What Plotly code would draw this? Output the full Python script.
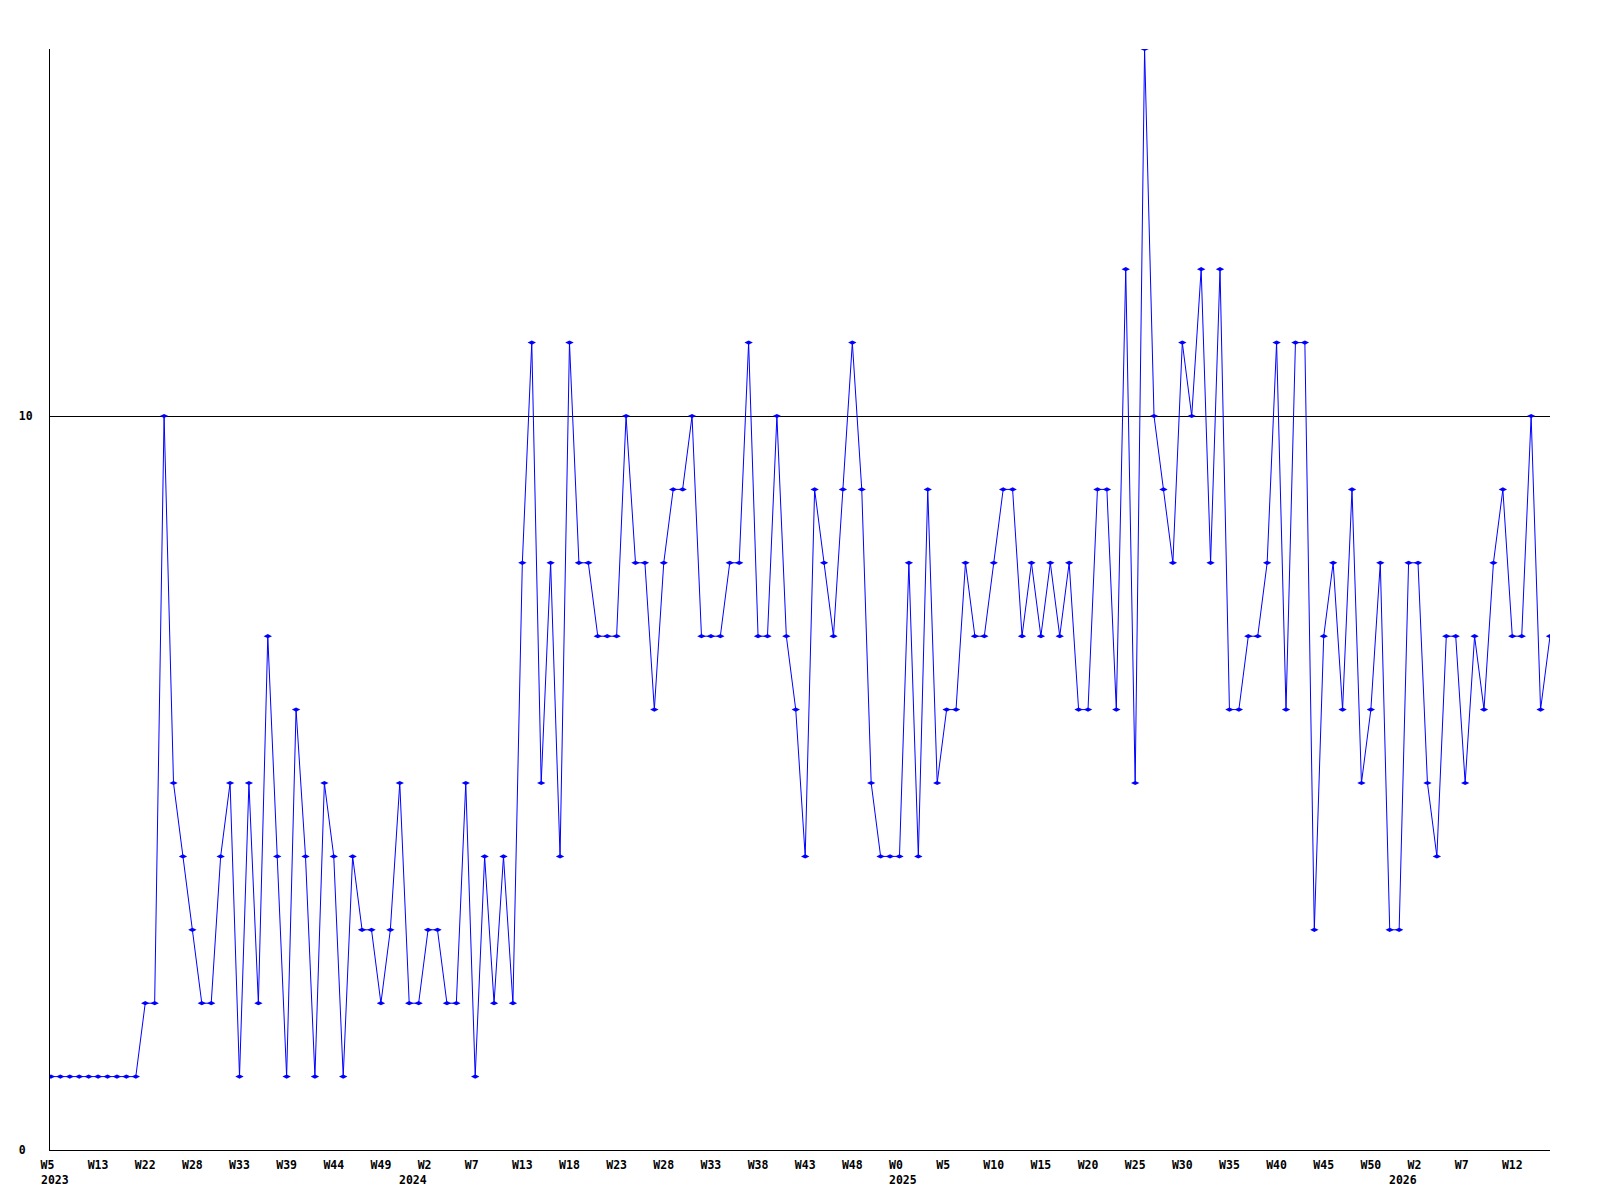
import plotly.graph_objects as go

# Weekly values (one per point, left to right)
values = [
    1, 1, 1, 1, 1, 1, 1, 1, 1, 1,
    2, 2, 10, 5, 4, 3, 2, 2, 4, 5,
    1, 5, 2, 7, 4, 1, 6, 4, 1, 5,
    4, 1, 4, 3, 3, 2, 3, 5, 2, 2,
    3, 3, 2, 2, 5, 1, 4, 2, 4, 2,
    8, 11, 5, 8, 4, 11, 8, 8, 7, 7,
    7, 10, 8, 8, 6, 8, 9, 9, 10, 7,
    7, 7, 8, 8, 11, 7, 7, 10, 7, 6,
    4, 9, 8, 7, 9, 11, 9, 5, 4, 4,
    4, 8, 4, 9, 5, 6, 6, 8, 7, 7,
    8, 9, 9, 7, 8, 7, 8, 7, 8, 6,
    6, 9, 9, 6, 12, 5, 15, 10, 9, 8,
    11, 10, 12, 8, 12, 6, 6, 7, 7, 8,
    11, 6, 11, 11, 3, 7, 8, 6, 9, 5,
    6, 8, 3, 3, 8, 8, 5, 4, 7, 7,
    5, 7, 6, 8, 9, 7, 7, 10, 6, 7,
]

# X tick labels (every 5th point)
week_labels = [
    "W5", "W13", "W22", "W28", "W33", "W39", "W44", "W49",
    "W2", "W7", "W13", "W18", "W23", "W28", "W33", "W38", "W43", "W48",
    "W0", "W5", "W10", "W15", "W20", "W25", "W30", "W35", "W40", "W45", "W50",
    "W2", "W7", "W12",
]
week_label_step = 5

# Year labels and the point index where each year begins
year_labels = ["2023", "2024", "2025", "2026"]
year_start_index = [0, 38, 90, 143]

y_tick_values = [0, 10]
y_tick_labels = ["0\u00a0", "10"]

x = list(range(len(values)))
tick_index = [i * week_label_step for i in range(len(week_labels))]
tick_text = [w.ljust(3, "\u00a0") for w in week_labels]

FONT = "DejaVu Sans Mono"
BLUE = "#0000ff"

fig = go.Figure(
    go.Scatter(
        x=x,
        y=values,
        mode="lines+markers",
        line=dict(color=BLUE, width=1),
        marker=dict(symbol="diamond-wide", size=6, color=BLUE),
        showlegend=False,
    )
)

for label, pos in zip(year_labels, year_start_index):
    fig.add_annotation(
        x=pos, y=0, xref="x", yref="paper",
        text=label, showarrow=False,
        xanchor="left", yanchor="middle", xshift=-12, yshift=-29.6,
        font=dict(family=FONT, size=11.5, color="black", weight="bold"),
    )

fig.update_layout(
    width=1584,
    height=1184,
    margin=dict(l=42, r=42, t=41, b=42, pad=0),
    paper_bgcolor="white",
    plot_bgcolor="white",
    font=dict(family=FONT, size=11.5, color="black", weight="bold"),
    xaxis=dict(
        range=[-0.1, len(values) - 1],
        tickmode="array",
        tickvals=tick_index,
        ticktext=tick_text,
        ticks="",
        showgrid=False,
        zeroline=False,
        showline=True,
        linecolor="black",
        linewidth=1,
        ticklabelstandoff=4,
    ),
    yaxis=dict(
        range=[0, 15],
        tickmode="array",
        tickvals=y_tick_values,
        ticktext=y_tick_labels,
        ticks="",
        showgrid=True,
        gridcolor="black",
        gridwidth=1,
        zeroline=False,
        showline=True,
        linecolor="black",
        linewidth=1,
        ticklabelstandoff=14,
    ),
)

fig.write_html("out.html")
